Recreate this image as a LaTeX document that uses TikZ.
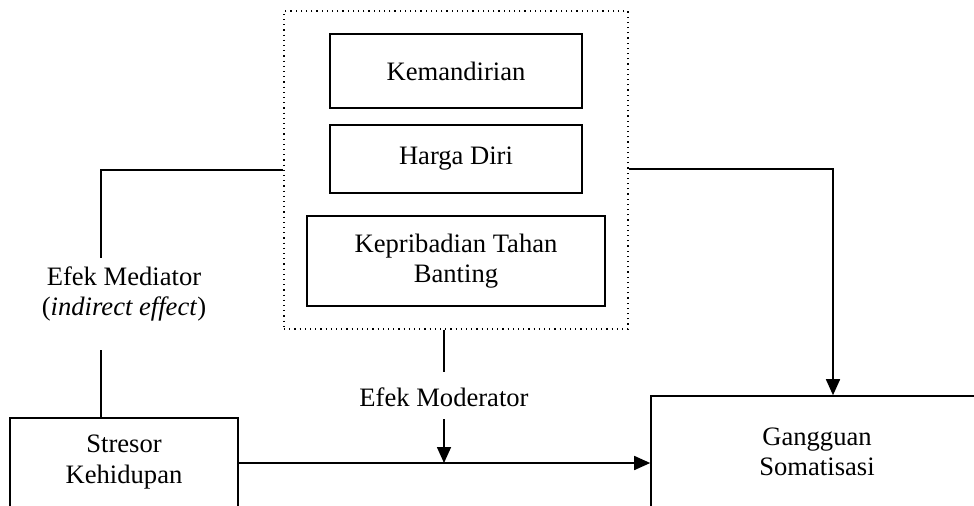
\documentclass[tikz,border=0pt]{standalone}
\usepackage{fontspec}
\setmainfont{Liberation Serif}
\usetikzlibrary{arrows.meta}
\begin{document}
\begin{tikzpicture}[x=0.5pt,y=-0.5pt,
  every node/.style={font=\fontsize{13.3}{15.3}\selectfont, align=center, inner sep=0pt},
  box/.style={draw, line width=0.8pt},
  conn/.style={line width=0.8pt},
  arr/.style={conn, -{Triangle[length=8pt,width=7pt]}}]
\useasboundingbox (0,0) rectangle (974,505);
\clip (0,0) rectangle (974,505);
% grouping box
\node[draw, dotted, line width=0.6pt, minimum width=172pt, minimum height=159pt] (grp) at (456,170) {};
\node[box, minimum width=126pt, minimum height=37pt] (kem) at (456,71) {Kemandirian};
\node[box, minimum width=126pt, minimum height=34pt] (hd) at (456,159) {Harga Diri};
\node[box, minimum width=149pt, minimum height=45pt] (kep) at (456,261) {Kepribadian Tahan\\Banting};
% bottom boxes
\node[box, minimum width=114pt, minimum height=51pt] (str) at (124,469) {};
\node (strt) at (124,462) {Stresor\\Kehidupan};
\node[box, minimum width=167pt, minimum height=62pt] (gg) at (818,458) {};
\node (ggt) at (817,452) {Gangguan\\Somatisasi};
% labels
\node (med) at (124,294) {Efek Mediator\\(\textit{indirect effect})};
\node (mod) at (444,397) {Efek Moderator};
% coordinates
\coordinate (gl) at (grp.west |- 0,170);
\coordinate (gr) at (grp.east |- 0,169);
\coordinate (lc) at (101,170);
\coordinate (mt) at (101,258);
\coordinate (mb) at (101,350);
\coordinate (rc) at (833,169);
\coordinate (mo1) at (444,372);
\coordinate (mo2) at (444,419);
\coordinate (sr) at (str.east |- 0,463);
\coordinate (gw) at (gg.west |- 0,463);
\coordinate (mx) at (444,463);
% connectors
\draw[conn] (gl) -- (lc) -- (mt);
\draw[conn] (mb) -- (str.north -| mb);
\draw[arr] (gr) -- (rc) -- (gg.north -| rc);
\draw[arr] (sr) -- (gw);
\draw[conn] (grp.south -| mo1) -- (mo1);
\draw[arr] (mo2) -- (mx);
\end{tikzpicture}
\end{document}
